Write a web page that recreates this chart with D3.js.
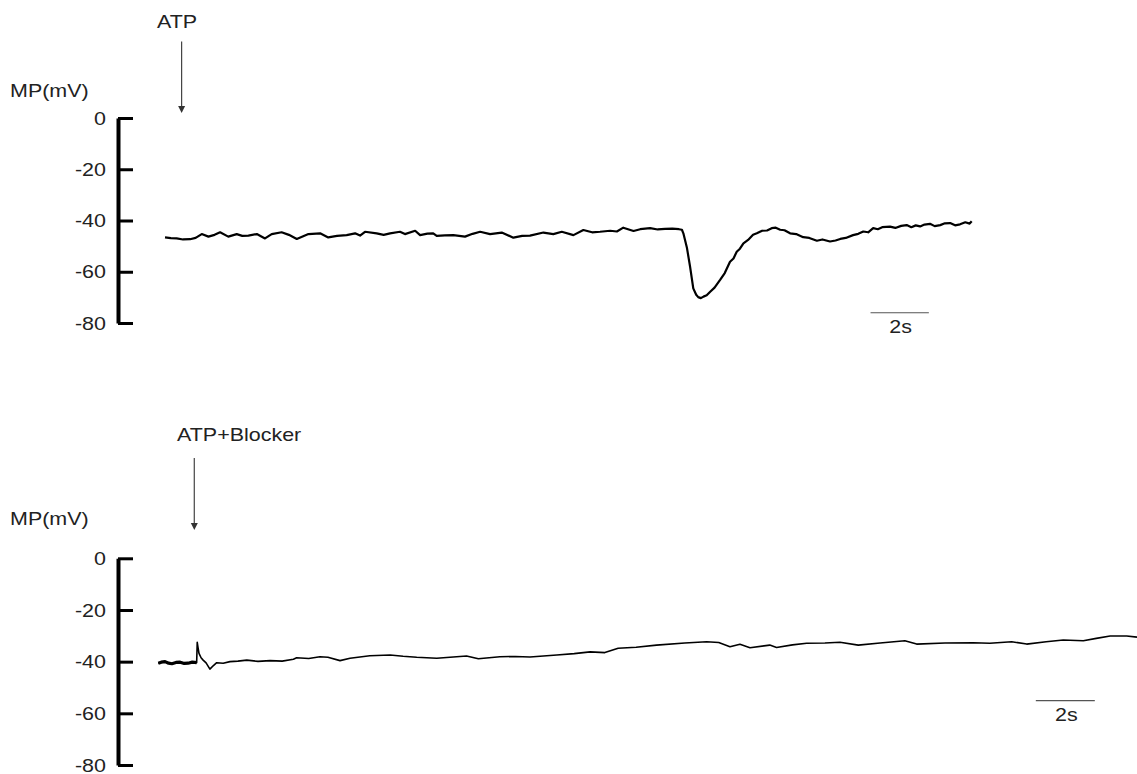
<!DOCTYPE html>
<html>
<head>
<meta charset="utf-8">
<script src="https://cdn.jsdelivr.net/npm/d3@7"></script>
<style>
  html, body { margin: 0; padding: 0; background: #fff; }
  svg { display: block; }
  text { font-family: "Liberation Sans", Arial, Helvetica, sans-serif; fill: #222; }
</style>
</head>
<body>
<svg id="chart" width="1137" height="774"></svg>
<script>
// ---------- data ----------
const yTicks = [0, -20, -40, -60, -80];
const yLabel = "MP(mV)";
const topLabel = "ATP";
const bottomLabel = "ATP+Blocker";
const scaleBarText = "2s";
const scaleBarSeconds = 2;

// top trace: time (s), membrane potential (mV)
const topT = [0.00,0.20,0.40,0.62,0.86,1.05,1.26,1.49,1.70,1.89,2.17,2.46,2.65,2.86,3.15,3.43,3.66,4.00,4.25,4.52,4.92,5.32,5.60,5.90,6.23,6.52,6.69,6.86,7.26,7.50,7.72,8.06,8.23,8.58,8.75,9.00,9.20,9.32,9.60,9.89,10.29,10.55,10.81,11.15,11.55,11.95,12.25,12.52,12.98,13.32,13.61,14.01,14.35,14.65,14.92,15.27,15.50,15.72,16.07,16.30,16.64,16.90,17.15,17.40,17.63,17.73,17.78,17.90,18.01,18.12,18.22,18.29,18.38,18.47,18.58,18.70,18.85,19.04,19.20,19.38,19.50,19.61,19.72,19.84,20.00,20.17,20.30,20.48,20.65,20.81,20.95,21.10,21.25,21.44,21.65,21.89,22.10,22.36,22.55,22.81,23.00,23.16,23.35,23.60,23.78,23.95,24.12,24.29,24.45,24.60,24.87,25.05,25.25,25.44,25.60,25.75,25.90,26.05,26.24,26.40,26.59,26.75,26.93,27.10,27.27,27.45,27.60,27.67];
const topV = [-46.6,-46.9,-47.0,-47.4,-47.3,-46.8,-45.3,-46.3,-45.6,-44.6,-46.3,-45.3,-46.0,-45.9,-45.3,-47.0,-45.3,-44.6,-45.6,-47.2,-45.3,-45.0,-46.6,-46.0,-45.7,-45.0,-45.9,-44.4,-45.0,-45.6,-45.0,-44.4,-45.3,-44.0,-45.7,-45.1,-45.0,-46.0,-45.8,-45.7,-46.3,-45.2,-44.4,-45.3,-44.7,-46.7,-46.0,-45.9,-44.7,-45.3,-44.4,-45.7,-43.7,-44.6,-44.4,-44.0,-44.3,-42.8,-44.1,-43.4,-43.0,-43.5,-43.3,-43.2,-43.4,-43.6,-45.0,-50.5,-58.0,-66.5,-69.0,-69.9,-70.3,-69.7,-69.2,-67.8,-66.2,-63.2,-60.5,-56.1,-54.8,-52.2,-51.0,-48.9,-47.6,-45.6,-45.0,-44.0,-43.9,-43.0,-42.8,-43.6,-43.8,-45.0,-45.3,-46.5,-46.8,-47.9,-47.4,-48.2,-47.8,-47.2,-46.8,-45.7,-45.2,-44.3,-44.6,-43.0,-43.4,-42.6,-42.4,-42.9,-42.1,-41.8,-42.6,-41.9,-42.3,-41.6,-41.3,-42.2,-41.8,-41.1,-41.0,-41.9,-41.5,-40.7,-41.2,-40.3,-39.8];

// bottom trace: time (s), membrane potential (mV)
const botT = [0.00,0.10,0.23,0.35,0.46,0.60,0.74,0.88,1.01,1.15,1.30,1.32,1.35,1.38,1.45,1.52,1.62,1.75,1.86,1.98,2.20,2.43,2.70,3.00,3.38,3.79,4.20,4.58,4.69,5.10,5.48,5.75,6.16,6.50,7.17,7.86,8.30,8.76,9.44,10.00,10.45,10.85,11.58,12.10,12.60,13.51,14.10,14.64,15.14,15.59,16.20,16.89,17.85,18.59,19.00,19.38,19.72,20.06,20.73,20.96,21.50,21.98,22.60,23.11,23.73,24.47,25.31,25.71,26.67,27.63,28.19,28.93,29.44,30.10,30.68,31.36,31.80,32.27,32.83,33.18];
const botV = [-40.6,-40.2,-40.0,-40.6,-40.8,-40.3,-40.2,-40.7,-40.6,-40.2,-40.4,-32.5,-34.8,-36.8,-38.5,-39.4,-40.5,-42.9,-41.6,-40.4,-40.6,-40.0,-39.8,-39.4,-39.9,-39.6,-39.8,-39.1,-38.5,-38.8,-38.1,-38.3,-39.6,-38.7,-37.7,-37.4,-37.9,-38.3,-38.7,-38.2,-37.8,-38.9,-38.1,-38.0,-38.2,-37.4,-36.9,-36.2,-36.5,-34.8,-34.4,-33.6,-32.8,-32.3,-32.6,-34.2,-33.3,-34.6,-33.6,-34.5,-33.5,-32.9,-32.8,-32.5,-33.6,-32.8,-31.9,-33.2,-32.8,-32.7,-32.9,-32.3,-33.2,-32.3,-31.6,-31.9,-31.0,-30.1,-30.1,-30.5];
const botNoisyEnd = 1.30; // end of the noisy (thick) pre-application segment

// annotation times (s) and levels (mV)
const topArrowT = 0.57, botArrowT = 1.22;
const topScaleBarT = 24.2, botScaleBarT = 29.75;
const topScaleBarV = -76, botScaleBarV = -55.1;

// ---------- drawing ----------
const svg = d3.select("#chart");
const SX = 1.13; // horizontal text stretch seen in the reference

function stretchedText(g, x, y, str, size, anchor) {
  return g.append("text")
    .attr("transform", `translate(${x},${y}) scale(${SX},1)`)
    .attr("text-anchor", anchor || "start")
    .style("font-size", size + "px")
    .text(str);
}

function panel(cfg) {
  const g = svg.append("g");
  const x = d3.scaleLinear().domain(cfg.tDomain).range(cfg.xRange);
  const y = d3.scaleLinear().domain([-80, 0]).range(cfg.yRange);

  // axis
  const axis = d3.axisLeft(y).tickValues(yTicks).tickSizeInner(-15).tickSizeOuter(0).tickPadding(12)
    .tickFormat(d => String(d));
  const ag = g.append("g").attr("transform", `translate(${cfg.axisX},0)`).call(axis);
  ag.select(".domain").attr("stroke", "#000").attr("stroke-width", 4);
  ag.selectAll(".tick line").attr("stroke", "#000").attr("stroke-width", 3);
  ag.selectAll(".tick text")
    .attr("x", -12 / SX)
    .attr("transform", `scale(${SX},1)`)
    .style("font-size", "19px")
    .style("font-family", '"Liberation Sans", Arial, sans-serif')
    .attr("fill", "#222");

  // y label
  stretchedText(g, 10, cfg.yLabelY, yLabel, 19);

  // drug label + arrow
  stretchedText(g, cfg.drugX, cfg.drugY, cfg.drug, 19);
  const ax = x(cfg.arrowT);
  g.append("line").attr("x1", ax).attr("x2", ax).attr("y1", cfg.arrowY1).attr("y2", cfg.arrowY2 - 6)
    .attr("stroke", "#444").attr("stroke-width", 1.2);
  g.append("path")
    .attr("d", `M${ax - 3.5},${cfg.arrowY2 - 7}L${ax + 3.5},${cfg.arrowY2 - 7}L${ax},${cfg.arrowY2}Z`)
    .attr("fill", "#333");

  // trace
  const pts = cfg.t.map((t, i) => [t, cfg.v[i]]);
  const line = d3.line().x(d => x(d[0])).y(d => y(d[1]));
  g.append("path").datum(pts).attr("d", line).attr("fill", "none")
    .attr("stroke", "#000").attr("stroke-width", cfg.lw).attr("stroke-linejoin", "round");
  if (cfg.noisyEnd != null) {
    g.append("path").datum(pts.filter(d => d[0] <= cfg.noisyEnd)).attr("d", line).attr("fill", "none")
      .attr("stroke", "#000").attr("stroke-width", 3.2).attr("stroke-linejoin", "round");
  }

  // scale bar
  const sx0 = x(cfg.sbT), sx1 = x(cfg.sbT + scaleBarSeconds), sy = y(cfg.sbV);
  g.append("line").attr("x1", sx0).attr("x2", sx1).attr("y1", sy).attr("y2", sy)
    .attr("stroke", "#555").attr("stroke-width", 1.2);
  stretchedText(g, (sx0 + sx1) / 2 + 1, sy + 20.5, scaleBarText, 19, "middle");
}

panel({
  tDomain: [0, 27.67], xRange: [165, 971.7], yRange: [323, 118], axisX: 118,
  yLabelY: 96.5, drug: topLabel, drugX: 157, drugY: 27.5,
  arrowT: topArrowT, arrowY1: 41.5, arrowY2: 113,
  t: topT, v: topV, lw: 2.2, noisyEnd: null,
  sbT: topScaleBarT, sbV: topScaleBarV
});

panel({
  tDomain: [0, 33.18], xRange: [158.3, 1137], yRange: [765, 558.3], axisX: 118,
  yLabelY: 525, drug: bottomLabel, drugX: 177, drugY: 440.5,
  arrowT: botArrowT, arrowY1: 458, arrowY2: 530,
  t: botT, v: botV, lw: 1.6, noisyEnd: botNoisyEnd,
  sbT: botScaleBarT, sbV: botScaleBarV
});
</script>
</body>
</html>
